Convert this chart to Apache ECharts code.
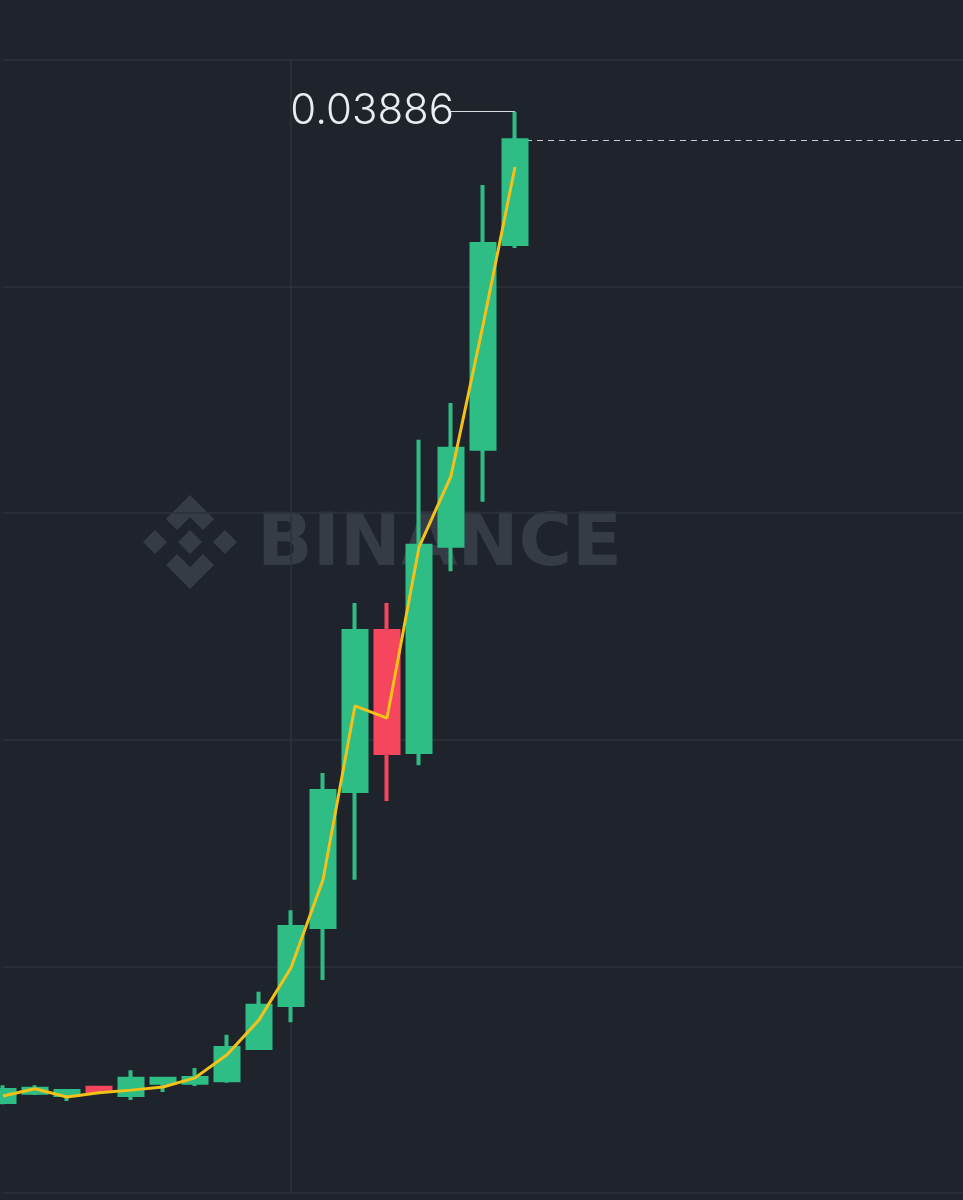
<!DOCTYPE html>
<html>
<head>
<meta charset="utf-8">
<script src="https://cdn.jsdelivr.net/npm/echarts@6/dist/echarts.min.js"></script>
<style>
html,body{margin:0;padding:0;background:#1e232c;}
#chart{width:963px;height:1200px;}
</style>
</head>
<body>
<div id="chart"></div>
<script>
// ---- data ----
const categories = ['1','2','3','4','5','6','7','8','9','10','11','12','13','14','15','16','17','18','19','20','21','22','23','24','25','26','27','28','29','30','31'];
const openPrices  = [0.01701,0.01721,0.01716,0.01732,0.01716,0.01743,0.01743,0.01749,0.01820,0.01915,0.02087,0.02387,0.02740,0.02473,0.02928,0.03142,0.03594];
const closePrices = [0.01727,0.01730,0.01725,0.01725,0.01752,0.01752,0.01754,0.01820,0.01913,0.02087,0.02387,0.02740,0.02471,0.02928,0.03142,0.03594,0.03823];
const lowPrices   = [0.01696,0.01716,0.01703,0.01723,0.01705,0.01723,0.01736,0.01743,0.01818,0.01877,0.01970,0.02191,0.02365,0.02444,0.02872,0.03025,0.03585];
const highPrices  = [0.01738,0.01738,0.01727,0.01734,0.01771,0.01754,0.01776,0.01849,0.01944,0.02124,0.02427,0.02802,0.02802,0.03162,0.03243,0.03724,0.03886];
const maValues    = [0.01714,0.01730,0.01712,0.01721,0.01727,0.01734,0.01754,0.01805,0.01882,0.01997,0.02191,0.02575,0.02548,0.02925,0.03082,0.03415,0.03764];
const priceTicks  = [0.015,0.020,0.025,0.030,0.035,0.040];
const markedCategory = 9; // vertical grid line position

const candleData = openPrices.map((o,i)=>[o, closePrices[i], lowPrices[i], highPrices[i]]);
const last = candleData.length - 1;
let hiIdx = 0;
highPrices.forEach((h,i)=>{ if(h>highPrices[hiIdx]) hiIdx=i; });

const chart = echarts.init(document.getElementById('chart'), null, {renderer:'canvas'});

// Binance-style watermark (decoration)
const cx = 190, cy = 542;
function diamond(x,y,r){ return [[x,y-r],[x+r,y],[x,y+r],[x-r,y]]; }
const wmColor = '#363c45';
const graphics = [
  {type:'polygon', shape:{points:diamond(cx,cy,12)}, style:{fill:wmColor}, z:0, silent:true},
  {type:'polygon', shape:{points:diamond(cx-35,cy,12)}, style:{fill:wmColor}, z:0, silent:true},
  {type:'polygon', shape:{points:diamond(cx+35,cy,12)}, style:{fill:wmColor}, z:0, silent:true},
  {type:'polygon', shape:{points:[[cx,cy-47],[cx+24,cy-23],[cx+13,cy-12],[cx,cy-25],[cx-13,cy-12],[cx-24,cy-23]]}, style:{fill:wmColor}, z:0, silent:true},
  {type:'polygon', shape:{points:[[cx,cy+47],[cx+24,cy+23],[cx+13,cy+12],[cx,cy+25],[cx-13,cy+12],[cx-24,cy+23]]}, style:{fill:wmColor}, z:0, silent:true},
  {type:'text', left:257, top:510, style:{text:'BINANCE', fill:wmColor, font:'bold 73px "DejaVu Sans", sans-serif'}, z:0, silent:true}
];

chart.setOption({
  animation:false,
  backgroundColor:'#1e232c',
  graphic: graphics,
  grid:{left:3, right:0, top:60, bottom:7, containLabel:false},
  xAxis:{
    type:'category', data:categories, boundaryGap:false,
    axisLine:{show:false}, axisTick:{show:false}, axisLabel:{show:false},
    splitLine:{show:true, interval:(idx)=>idx===markedCategory, lineStyle:{color:'#2d323b', width:1.5}}
  },
  yAxis:{
    type:'value', position:'right', min:priceTicks[0], max:priceTicks[priceTicks.length-1], interval:0.005,
    axisLine:{show:false}, axisTick:{show:false}, axisLabel:{show:false},
    splitLine:{show:true, lineStyle:{color:'#2d323b', width:1.5}}
  },
  series:[
    {
      type:'candlestick', data:candleData, barWidth:24, clip:false, z:2,
      itemStyle:{color:'#2ebd85', color0:'#f6465d', borderColor:'#2ebd85', borderColor0:'#f6465d', borderWidth:4},
      markLine:{
        z:1, silent:true, symbol:['none','none'], animation:false,
        data:[
          [
            {coord:[last, closePrices[last]], lineStyle:{type:[6,5], color:'#c9ccd1', width:1}, label:{show:false}},
            {coord:[categories.length-1, closePrices[last]]}
          ],
          [
            {coord:[hiIdx, highPrices[hiIdx]], lineStyle:{type:'solid', color:'#d8dade', width:1.2},
             label:{show:true, position:'end', distance:-3, formatter:()=>highPrices[hiIdx].toFixed(5), color:'#eaecef', fontSize:42, fontWeight:300, fontFamily:'Inter, "Noto Sans", sans-serif', padding:[8,0,0,0]}},
            {coord:[hiIdx-2, highPrices[hiIdx]]}
          ]
        ]
      }
    },
    {
      type:'line', data:maValues, showSymbol:false, smooth:false, z:3,
      lineStyle:{color:'#f2c11a', width:3}
    }
  ]
});
</script>
</body>
</html>
